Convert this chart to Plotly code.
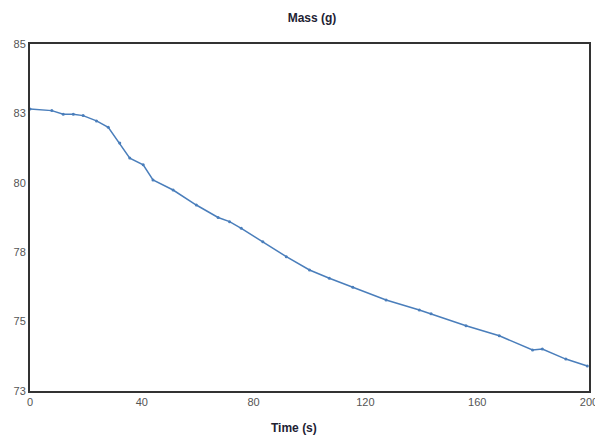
import plotly.graph_objects as go

# readings taken off the chart
time_s = [0, 7.8, 11.9, 15.5, 19.0, 23.8, 28.0, 32.1, 35.7, 40.5, 44.0, 51.2, 59.5,
          67.3, 71.4, 75.6, 83.3, 91.7, 100.0, 107.1, 115.5, 127.4, 139.3, 143.5,
          156.0, 167.9, 179.8, 183.3, 191.7, 199.4]
mass_g = [82.66, 82.60, 82.47, 82.47, 82.42, 82.23, 82.00, 81.43, 80.89, 80.65,
          80.10, 79.74, 79.20, 78.75, 78.60, 78.36, 77.88, 77.34, 76.86, 76.56,
          76.24, 75.78, 75.42, 75.28, 74.85, 74.49, 73.98, 74.01, 73.65, 73.40]

y_ticks = [72.5, 75, 77.5, 80, 82.5, 85]
y_labels = ['73', '75', '78', '80', '83', '85']
x_ticks = [0, 40, 80, 120, 160, 200]

fig = go.Figure()
fig.add_trace(go.Scatter(x=time_s, y=mass_g, mode='lines+markers',
                         line=dict(color='#4a7ebb', width=1.5),
                         marker=dict(size=3, color='#4a7ebb'),
                         showlegend=False))

# page body has an 8px margin, so the figure is a bit smaller than the window
fig.update_layout(width=595, height=429,
                  plot_bgcolor='white', paper_bgcolor='white',
                  margin=dict(l=22, r=14, t=36, b=46, autoexpand=False),
                  font=dict(family='Liberation Sans', size=11, color='#555'),
                  title=dict(text='<b>Mass (g)</b>', x=0.511, xanchor='center',
                             yref='container', y=0.977, yanchor='middle',
                             font=dict(size=12, color='#223')))
fig.add_annotation(text='<b>Time (s)</b>', xref='paper', yref='paper',
                   x=0.472, y=0, yanchor='top', yshift=-28, showarrow=False,
                   font=dict(size=12, color='#223'))
fig.update_xaxes(range=[0, 200], tickvals=x_ticks, showgrid=False, zeroline=False,
                 showline=True, linewidth=2, linecolor='#333', mirror=True,
                 ticks='', automargin=False)
fig.update_yaxes(range=[72.5, 85], tickvals=y_ticks, ticktext=y_labels,
                 showgrid=False, zeroline=False, automargin=False,
                 showline=True, linewidth=2, linecolor='#333', mirror=True,
                 ticks='')

fig.write_html("out.html")
